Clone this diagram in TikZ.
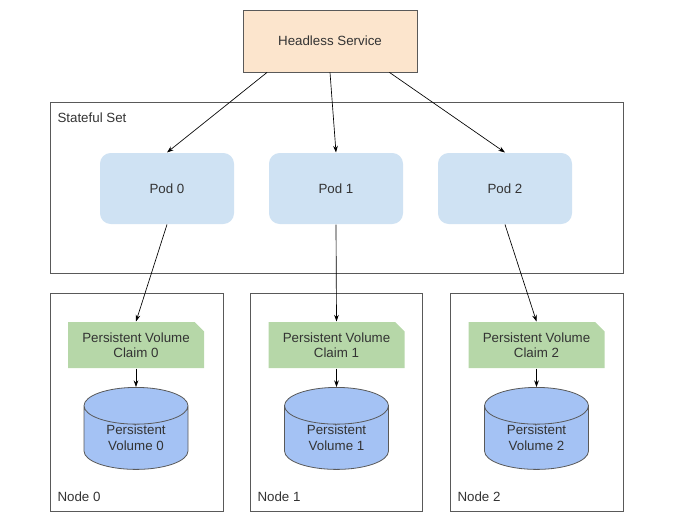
\documentclass[tikz,border=0pt]{standalone}
\usepackage{fontspec}
\setmainfont{Liberation Sans}
\usetikzlibrary{arrows.meta,calc,shapes.geometric,shapes.misc}

\definecolor{svcfill}{RGB}{252,229,205}
\definecolor{podfill}{RGB}{207,226,243}
\definecolor{pvcfill}{RGB}{182,215,168}
\definecolor{pvfill}{RGB}{164,194,244}
\definecolor{edgegray}{RGB}{89,89,89}
\definecolor{txtgray}{RGB}{51,51,51}

\tikzset{every picture/.style={line width=0.75pt}}
\tikzset{
  svcbox/.style={draw=edgegray,line width=0.6pt,fill=svcfill,minimum width=130.5pt,minimum height=46.5pt,inner sep=0pt,text=txtgray},
  groupbox/.style={draw=edgegray,line width=0.6pt,inner sep=0pt},
  podbox/.style={fill=podfill,rounded corners=8pt,minimum width=100.5pt,minimum height=53.25pt,inner sep=0pt,text=txtgray},
  pvcbox/.style={chamfered rectangle,chamfered rectangle corners=north east,chamfered rectangle xsep=3.5pt,chamfered rectangle ysep=3.5pt,fill=pvcfill,minimum width=102pt,minimum height=34.5pt,inner sep=0pt,align=center,text=txtgray,font=\fontsize{10}{11.5}\selectfont},
  pvbox/.style={cylinder,shape border rotate=90,aspect=0.62,draw=edgegray,line width=0.6pt,fill=pvfill,minimum width=78pt,minimum height=61.5pt,inner sep=0pt,align=center,text=txtgray,font=\fontsize{10}{11.5}\selectfont},
  grouplabel/.style={anchor=west,inner sep=0pt,text=txtgray},
  link/.style={-{Stealth[length=5pt,width=3.5pt]},line width=0.5pt,black},
}

\begin{document}
\begin{tikzpicture}[x=0.75pt,y=0.75pt,yscale=-1,xscale=1,font=\fontsize{10}{12}\selectfont]
\useasboundingbox (0,0) rectangle (700,525);

%Shape: Rectangle [Headless Service]
\node[svcbox] (svc) at (330,41) {Headless Service};

%Shape: Rectangle [Stateful Set]
\draw[groupbox] (50,102) rectangle (623,273);
\node[grouplabel] (setlabel) at (57,118) {Stateful Set};

%Shape: Rounded Rectangle [Pods]
\node[podbox] (pod0) at (167,188.5) {Pod 0};
\node[podbox] (pod1) at (336,188.5) {Pod 1};
\node[podbox] (pod2) at (505,188.5) {Pod 2};

%Shape: Rectangle [Nodes]
\draw[groupbox] (50,293) rectangle (223,511);
\draw[groupbox] (250,293) rectangle (422,511);
\draw[groupbox] (450,293) rectangle (623,511);
\node[grouplabel] (nodelabel0) at (57,497) {Node 0};
\node[grouplabel] (nodelabel1) at (257,497) {Node 1};
\node[grouplabel] (nodelabel2) at (457,497) {Node 2};

%Shape: Snip Rectangle [Claims]
\node[pvcbox] (pvc0) at (136,345) {Persistent Volume\\Claim 0};
\node[pvcbox] (pvc1) at (336.5,345) {Persistent Volume\\Claim 1};
\node[pvcbox] (pvc2) at (536.5,345) {Persistent Volume\\Claim 2};

%Shape: Can [Volumes]
\node[pvbox,anchor=north] (pv0) at (136,387) {Persistent\\Volume 0};
\node[pvbox,anchor=north] (pv1) at (336.5,387) {Persistent\\Volume 1};
\node[pvbox,anchor=north] (pv2) at (536.5,387) {Persistent\\Volume 2};

%Straight Lines [service to pods]
\draw[link] ($(svc.south west)!0.14!(svc.south east)$) -- (pod0.north);
\draw[link] (svc.south) -- (pod1.north);
\draw[link] ($(svc.south west)!0.84!(svc.south east)$) -- (pod2.north);

%Straight Lines [pods to claims]
\draw[link] (pod0.south) -- (pvc0.north);
\draw[link] (pod1.south) -- (pvc1.north);
\draw[link] (pod2.south) -- (pvc2.north);

%Straight Lines [claims to volumes]
\draw[link] (pvc0.south) -- (pv0.north);
\draw[link] (pvc1.south) -- (pv1.north);
\draw[link] (pvc2.south) -- (pv2.north);

\end{tikzpicture}
\end{document}
